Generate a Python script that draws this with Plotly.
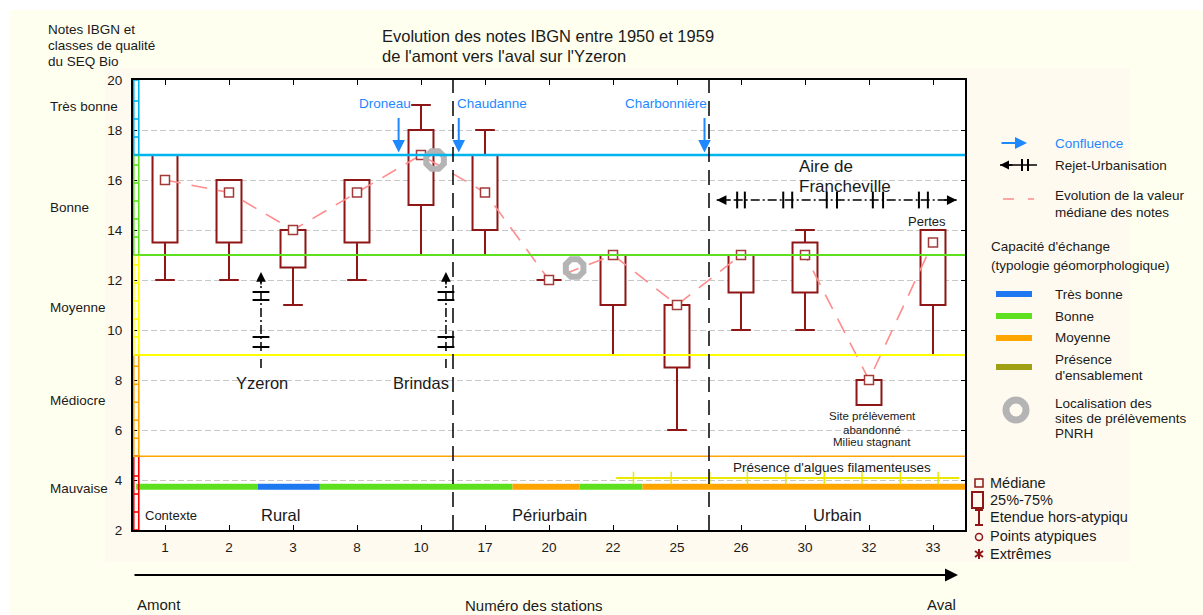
import plotly.graph_objects as go

# ---------------- data ----------------
stations = ["1", "2", "3", "8", "10", "17", "20", "22", "25", "26", "30", "32", "33"]
q1 = [13.5, 13.5, 12.5, 13.5, 15, 14, 12, 11, 8.5, 11.5, 11.5, 7, 11]
q3 = [17, 16, 14, 16, 18, 17, 12, 13, 11, 13, 13.5, 8, 14]
median = [16, 15.5, 14, 15.5, 17, 15.5, 12, 13, 11, 13, 13, 8, 13.5]
low = [12, 12, 11, 12, 13, 13, 12, 9, 6, 10, 10, 7, 9]
high = [17, 16, 14, 16, 19, 18, 12, 13, 11, 13, 14, 8, 14]

zone_bounds = [4.5, 8.5]
zone_names = ["Rural", "Périurbain", "Urbain"]
zone_label_x = [1.8, 6.0, 10.5]

class_bounds = [2, 4.95, 9, 13, 17, 20]
class_names = ["Mauvaise", "Médiocre", "Moyenne", "Bonne", "Très bonne"]
class_label_y = [3.68, 7.2, 10.92, 14.92, 18.96]

cap_bounds = [-0.45, 1.45, 2.42, 5.43, 6.48, 7.46, 12.5]
cap_types = ["Bonne", "Très bonne", "Bonne", "Moyenne", "Bonne", "Moyenne"]
cap_level = 3.73

confl_names = ["Droneau", "Chaudanne", "Charbonnière"]
confl_x = [3.65, 4.59, 8.43]
confl_label_x = [3.44, 5.11, 7.83]

rejet_names = ["Yzeron", "Brindas"]
rejet_x = [1.5, 4.39]
rejet_label_x = [1.51, 4.0]
rejet_y = [8.48, 12.32]
rejet_marks_y = [11.52, 11.2, 9.72, 9.32]

franch_x = [8.62, 12.37]
franch_y = 15.2
franch_marks_x = [8.94, 9.06, 9.66, 9.80, 10.34, 10.5, 11.06, 11.22, 11.78, 11.92]

algae_x = [7.05, 12.41]
algae_y = 4.08
algae_ticks_x = [7.32, 7.91, 8.51, 9.10, 9.70, 10.30, 10.89, 11.49, 12.08]

pnrh_x = [4.22, 6.4]
pnrh_y = [16.8, 12.48]

# ---------------- style ----------------
FONT = "Liberation Sans, Arial, sans-serif"
TXT = "#1a1a1a"
DR = "#8E1616"
MED = "#A33A3A"
PINK = "#FF8C8C"
BLUE_TXT = "#1E88FF"
CLASS_COLORS = ["#FF0000", "#FFA500", "#FFFF00", "#5FE01E", "#00B4F0"]
LINE_COLS = {1: "#FFA500", 2: "#FFFF00", 3: "#5FE01E", 4: "#00B4F0"}
LINE_W = {1: 1.5, 2: 2.2, 3: 2, 4: 2.5}
CAP_COLORS = {"Très bonne": "#1E78F0", "Bonne": "#5FE01E", "Moyenne": "#FFA500",
              "Présence d'ensablement": "#A0A014"}
GREY_RING = "#B4B4B4"

W, H = 1203, 615
L, R, T, B = 133, 965, 80, 530   # plot area in pixels


def px2x(px):
    return (px - L) / (R - L)


def px2y(py):
    return (B - py) / (B - T)


fig = go.Figure()
idx = list(range(len(stations)))

# boxes (25%-75%)
fig.add_trace(go.Bar(x=idx, y=[b - a for a, b in zip(q1, q3)], base=q1, width=0.39,
                     marker=dict(color="white", line=dict(color=DR, width=2)),
                     hoverinfo="skip"))

# whiskers
wx, wy, cx, cy = [], [], [], []
for i in idx:
    if high[i] > q3[i]:
        wx += [i, i, None]
        wy += [q3[i], high[i], None]
        cx.append(i)
        cy.append(high[i])
    if low[i] < q1[i]:
        wx += [i, i, None]
        wy += [q1[i], low[i], None]
        cx.append(i)
        cy.append(low[i])
fig.add_trace(go.Scatter(x=wx, y=wy, mode="lines", line=dict(color=DR, width=2), hoverinfo="skip"))
fig.add_trace(go.Scatter(x=cx, y=cy, mode="markers",
                         marker=dict(symbol="line-ew", size=14, line=dict(color=DR, width=2)),
                         hoverinfo="skip"))

# capacity line (bottom)
for k, t in enumerate(cap_types):
    fig.add_trace(go.Scatter(x=[cap_bounds[k], cap_bounds[k + 1]], y=[cap_level, cap_level],
                             mode="lines", line=dict(color=CAP_COLORS[t], width=6), hoverinfo="skip"))

# algae line
fig.add_trace(go.Scatter(x=algae_x, y=[algae_y, algae_y], mode="lines",
                         line=dict(color="#E8E800", width=2), hoverinfo="skip"))
fig.add_trace(go.Scatter(x=algae_ticks_x, y=[algae_y] * len(algae_ticks_x), mode="markers",
                         marker=dict(symbol="line-ns", size=9, line=dict(color="#E8E800", width=1.5)),
                         hoverinfo="skip"))

# median evolution line + squares
fig.add_trace(go.Scatter(x=idx, y=median, mode="lines",
                         line=dict(color=PINK, width=1.6, dash="16px,11px"), hoverinfo="skip"))
fig.add_trace(go.Scatter(x=idx, y=median, mode="markers",
                         marker=dict(symbol="square", size=9, color="white", line=dict(color=MED, width=1.5)),
                         hoverinfo="skip"))

# PNRH rings
fig.add_trace(go.Scatter(x=pnrh_x, y=pnrh_y, mode="markers",
                         marker=dict(symbol="octagon-open", size=19, color=GREY_RING,
                                     line=dict(color=GREY_RING, width=6)),
                         hoverinfo="skip"))

# rejet-urbanisation arrows (vertical)
for xv in rejet_x:
    fig.add_trace(go.Scatter(x=[xv, xv], y=[rejet_y[0], rejet_y[1] - 0.3], mode="lines",
                             line=dict(color="black", width=1.5, dash="9px,3px,2px,3px"), hoverinfo="skip"))
    fig.add_trace(go.Scatter(x=[xv] * len(rejet_marks_y), y=rejet_marks_y, mode="markers",
                             marker=dict(symbol="line-ew", size=12, line=dict(color="black", width=2)),
                             hoverinfo="skip"))
    fig.add_annotation(x=xv, y=rejet_y[1], xref="x", yref="y", text="", showarrow=True,
                       ax=0, ay=14, arrowhead=2, arrowsize=1.3, arrowwidth=1.5, arrowcolor="black")

# Francheville arrow (horizontal)
fig.add_trace(go.Scatter(x=franch_x, y=[franch_y, franch_y], mode="lines",
                         line=dict(color="black", width=1.5, dash="9px,3px,2px,3px"), hoverinfo="skip"))
fig.add_trace(go.Scatter(x=franch_marks_x, y=[franch_y] * len(franch_marks_x), mode="markers",
                         marker=dict(symbol="line-ns", size=12, line=dict(color="black", width=2)),
                         hoverinfo="skip"))
fig.add_annotation(x=franch_x[0], y=franch_y, xref="x", yref="y", text="", showarrow=True,
                   ax=14, ay=0, arrowhead=2, arrowsize=1.3, arrowwidth=1.5, arrowcolor="black")
fig.add_annotation(x=franch_x[1], y=franch_y, xref="x", yref="y", text="", showarrow=True,
                   ax=-14, ay=0, arrowhead=2, arrowsize=1.3, arrowwidth=1.5, arrowcolor="black")

# confluence arrows
for name, xv, lx in zip(confl_names, confl_x, confl_label_x):
    fig.add_annotation(x=xv, y=17.1, xref="x", yref="y", text="", showarrow=True,
                       ax=0, ay=-36, arrowhead=2, arrowsize=1.25, arrowwidth=2, arrowcolor=BLUE_TXT)
    fig.add_annotation(x=lx, y=19.06, xref="x", yref="y", text=name, showarrow=False,
                       font=dict(size=13.5, color=BLUE_TXT))

shapes = []

# class threshold lines
for k in range(1, 5):
    shapes.append(dict(type="line", xref="x", yref="y", x0=-0.5, x1=12.5,
                       y0=class_bounds[k], y1=class_bounds[k],
                       line=dict(color=LINE_COLS[k], width=LINE_W[k]), layer="above"))

# quality ladder strip on the left
for k in range(5):
    y0, y1 = class_bounds[k], class_bounds[k + 1]
    col = CLASS_COLORS[k]
    shapes.append(dict(type="rect", xref="x", yref="y", x0=-0.488, x1=-0.41, y0=y0, y1=y1,
                       line=dict(color=col, width=1.6), layer="above"))
    yy = y0 + 0.72
    while yy < y1 - 0.2:
        shapes.append(dict(type="line", xref="x", yref="y", x0=-0.488, x1=-0.41, y0=yy, y1=yy,
                           line=dict(color=col, width=1.6), layer="above"))
        yy += 0.72

# zone boundaries
for zb in zone_bounds:
    shapes.append(dict(type="line", xref="x", yref="y", x0=zb, x1=zb, y0=2, y1=20,
                       line=dict(color="black", width=1.5, dash="15px,8px"), layer="above"))

# background panels
PANEL = "#FFFAF0"
for (a, b, c, d) in [(105, 68, 1130, 80), (105, 530, 1130, 562), (105, 80, 133, 530), (965, 80, 1130, 530)]:
    shapes.append(dict(type="rect", xref="paper", yref="paper", x0=px2x(a), x1=px2x(c),
                       y0=px2y(d), y1=px2y(b), fillcolor=PANEL, line=dict(width=0), layer="below"))
for (a, b, c, d) in [(0, 0, 9, 615), (0, 0, 1203, 10)]:
    shapes.append(dict(type="rect", xref="paper", yref="paper", x0=px2x(a), x1=px2x(c),
                       y0=px2y(d), y1=px2y(b), fillcolor="white", line=dict(width=0), layer="below"))


def pline(x0, y0, x1, y1, color, width, dash=None):
    ln = dict(color=color, width=width)
    if dash:
        ln["dash"] = dash
    shapes.append(dict(type="line", xref="paper", yref="paper", x0=px2x(x0), x1=px2x(x1),
                       y0=px2y(y0), y1=px2y(y1), line=ln))


def ptext(px, py, text, size=13.5, color=TXT, xanchor="left"):
    fig.add_annotation(x=px2x(px), y=px2y(py), xref="paper", yref="paper", text=text,
                       showarrow=False, xanchor=xanchor, yanchor="middle",
                       font=dict(size=size, color=color))


# right legend
fig.add_annotation(x=px2x(1027), y=px2y(143), xref="paper", yref="paper", text="", showarrow=True,
                   ax=-27, ay=0, arrowhead=2, arrowsize=1.2, arrowwidth=2, arrowcolor=BLUE_TXT)
ptext(1053, 143, "Confluence", color=BLUE_TXT)
pline(1000, 165, 1037, 165, "black", 1.5)
pline(1022, 159, 1022, 171, "black", 2)
pline(1028, 159, 1028, 171, "black", 2)
fig.add_annotation(x=px2x(1000), y=px2y(165), xref="paper", yref="paper", text="", showarrow=True,
                   ax=14, ay=0, arrowhead=2, arrowsize=1.2, arrowwidth=1.5, arrowcolor="black")
ptext(1053, 165, "Rejet-Urbanisation")
pline(1003, 199, 1034, 199, PINK, 1.6, "11px,14px")
ptext(1053, 195, "Evolution de la valeur")
ptext(1053, 212, "médiane des notes")
ptext(989, 247, "Capacité d'échange")
ptext(989, 265, "(typologie géomorphologique)")
cap_legend = [("Très bonne", 294, ["Très bonne"]), ("Bonne", 316, ["Bonne"]),
              ("Moyenne", 338, ["Moyenne"]), ("Présence d'ensablement", 367, ["Présence", "d'ensablement"])]
for key, yv, lines in cap_legend:
    pline(996, yv, 1032, yv, CAP_COLORS[key], 6)
    if len(lines) == 1:
        ptext(1053, yv, lines[0])
    else:
        ptext(1053, yv - 8, lines[0])
        ptext(1053, yv + 8, lines[1])
shapes.append(dict(type="circle", xref="paper", yref="paper", x0=px2x(1006), x1=px2x(1026),
                   y0=px2y(420), y1=px2y(400), line=dict(color=GREY_RING, width=7)))
ptext(1053, 403, "Localisation des")
ptext(1053, 418, "sites de prélèvements")
ptext(1053, 433, "PNRH")

# bottom legend (box plot key)
shapes.append(dict(type="rect", xref="paper", yref="paper", x0=px2x(975), x1=px2x(983),
                   y0=px2y(487), y1=px2y(479), line=dict(color=DR, width=1.5)))
shapes.append(dict(type="rect", xref="paper", yref="paper", x0=px2x(972), x1=px2x(983),
                   y0=px2y(508), y1=px2y(492), line=dict(color=DR, width=2)))
pline(979, 510, 979, 525, DR, 2)
pline(975, 510, 983, 510, DR, 2)
pline(975, 525, 983, 525, DR, 2)
shapes.append(dict(type="circle", xref="paper", yref="paper", x0=px2x(975.5), x1=px2x(982.5),
                   y0=px2y(540.5), y1=px2y(533.5), line=dict(color=DR, width=1.5)))
pline(979, 549, 979, 559, DR, 2)
pline(975, 551, 983, 557, DR, 2)
pline(975, 557, 983, 551, DR, 2)
for yv, t in zip([483, 500, 517, 536, 554],
                 ["Médiane", "25%-75%", "Etendue hors-atypiqu", "Points atypiques", "Extrêmes"]):
    ptext(988, yv, t, size=14.5)

# bottom arrow & labels
fig.add_annotation(x=px2x(958), y=px2y(575), xref="paper", yref="paper", text="", showarrow=True,
                   ax=-(958 - L), ay=0, arrowhead=2, arrowsize=1.3, arrowwidth=2, arrowcolor="black")
ptext(135, 604, "Amont", size=15)
ptext(958, 604, "Aval", size=15, xanchor="right")
ptext(534, 605, "Numéro des stations", size=15, xanchor="center")

# titles
ptext(46, 30, "Notes IBGN et")
ptext(46, 46, "classes de qualité")
ptext(46, 62, "du SEQ Bio")
ptext(380, 36, "Evolution des notes IBGN entre 1950 et 1959", size=16.5)
ptext(380, 56, "de l'amont vers l'aval sur l'Yzeron", size=16.5)

# class labels on the left
for name, yv in zip(class_names, class_label_y):
    fig.add_annotation(x=px2x(48), y=yv, xref="paper", yref="y", text=name, showarrow=False,
                       xanchor="left", yanchor="middle", font=dict(size=13.5, color=TXT))

# zone labels
fig.add_annotation(x=-0.34, y=2.6, xref="x", yref="y", text="Contexte", showarrow=False,
                   xanchor="left", font=dict(size=13, color=TXT))
for name, xv in zip(zone_names, zone_label_x):
    fig.add_annotation(x=xv, y=2.6, xref="x", yref="y", text=name, showarrow=False,
                       font=dict(size=16.5, color=TXT))

# rejet labels
for name, xv in zip(rejet_names, rejet_label_x):
    fig.add_annotation(x=xv, y=7.88, xref="x", yref="y", text=name, showarrow=False,
                       font=dict(size=16.5, color=TXT))

# in-plot notes
fig.add_annotation(x=9.88, y=16.56, xref="x", yref="y", text="Aire de", showarrow=False,
                   xanchor="left", font=dict(size=17, color=TXT))
fig.add_annotation(x=9.88, y=15.76, xref="x", yref="y", text="Francheville", showarrow=False,
                   xanchor="left", font=dict(size=17, color=TXT))
fig.add_annotation(x=11.9, y=14.36, xref="x", yref="y", text="Pertes", showarrow=False,
                   font=dict(size=13, color=TXT))
for yv, t in zip([6.56, 6.0, 5.52], ["Site prélèvement", "abandonné", "Milieu stagnant"]):
    fig.add_annotation(x=11.05, y=yv, xref="x", yref="y", text=t, showarrow=False,
                       font=dict(size=11.5, color=TXT))
fig.add_annotation(x=10.42, y=4.52, xref="x", yref="y", text="Présence d'algues filamenteuses",
                   showarrow=False, font=dict(size=13.5, color=TXT))

fig.update_layout(
    width=W, height=H,
    margin=dict(l=L, r=W - R, t=T, b=H - B, pad=0),
    paper_bgcolor="#FFFFF0", plot_bgcolor="white",
    showlegend=False, barmode="overlay",
    font=dict(family=FONT, size=13.5, color=TXT),
    shapes=shapes,
    xaxis=dict(range=[-0.5, 12.5], tickvals=idx, ticktext=stations, ticks="inside", ticklen=5,
               tickcolor="black", tickwidth=1.2, showline=True, linecolor="black", linewidth=2,
               mirror="ticks", showgrid=False, zeroline=False, ticklabelstandoff=4,
               tickfont=dict(size=13.5, color=TXT), fixedrange=True),
    yaxis=dict(range=[2, 20], tickvals=list(range(2, 21, 2)), ticks="inside", ticklen=4,
               tickcolor="black", tickwidth=1.2, showline=True, linecolor="black", linewidth=2,
               mirror="ticks", showgrid=True, gridcolor="#C8C8C8", griddash="6px,3px", gridwidth=1,
               zeroline=False, ticklabelstandoff=6, tickfont=dict(size=13.5, color=TXT),
               fixedrange=True),
)

fig.write_html("out.html", post_script="document.body.style.margin='0';",
               config={"displayModeBar": False})
